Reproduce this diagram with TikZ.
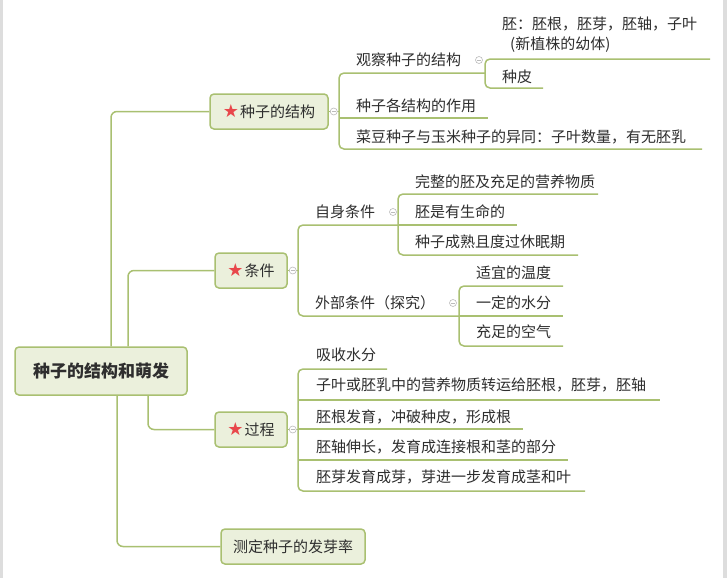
\documentclass[tikz,border=0pt]{standalone}
\usepackage{fontspec}
\setmainfont{Noto Sans CJK SC}
\newfontfamily\symfont{DejaVu Sans}
\usetikzlibrary{calc}
\definecolor{lc}{HTML}{A9C071}
\definecolor{nf}{HTML}{EBF0DC}
\definecolor{tc}{HTML}{2E2E2E}
\definecolor{sr}{HTML}{E8474B}
\definecolor{mk}{HTML}{BBBBBB}
\definecolor{edgegray}{HTML}{DDDDDD}
\newcommand{\redstar}{\raisebox{-0.5pt}{\symfont\color{sr}\fontsize{18}{18}\selectfont ★}\hspace{1pt}}
\begin{document}
\begin{tikzpicture}[x=1pt,y=-1pt,
 conn/.style={draw=lc, line width=1.5pt, rounded corners=5pt},
 topic/.style={draw=lc, fill=nf, line width=1.5pt, rounded corners=4pt, minimum height=35pt, inner sep=0pt, font=\fontsize{15}{18}\selectfont, text=tc},
 rootbox/.style={topic, minimum width=172pt, minimum height=48pt, font=\fontsize{17}{20}\selectfont\bfseries},
 leaf/.style={anchor=west, inner sep=0pt, font=\fontsize{15}{18}\selectfont, text=tc},
 marker/.style={circle, draw=mk, fill=white, line width=0.6pt, minimum size=7pt, inner sep=0pt,
   path picture={\draw[mk, line width=0.6pt] ([xshift=-2pt]path picture bounding box.center) -- ([xshift=2pt]path picture bounding box.center);}}
]
\useasboundingbox (0,0) rectangle (727,578);
\fill[white] (0,0) rectangle (727,578);
\fill[edgegray] (0,0) rectangle (2.5,578);
\fill[edgegray] (723,0) rectangle (727,578);

% main topics
\node[rootbox] (root) at (101,371) {种子的结构和萌发};
\node[topic, minimum width=118pt] (s1) at (269,111.5) {\redstar 种子的结构};
\node[topic, minimum width=72pt] (s2) at (251,270.5) {\redstar 条件};
\node[topic, minimum width=72pt] (s3) at (251,429.5) {\redstar 过程};
\node[topic, minimum width=144pt] (s4) at (293,546.5) {测定种子的发芽率};

\draw[conn, rounded corners=6pt] ([xshift=10pt]root.north) |- (s1.west);
\draw[conn, rounded corners=6pt] ([xshift=27pt]root.north) |- (s2.west);
\draw[conn, rounded corners=6pt] ([xshift=47pt]root.south) |- (s3.west);
\draw[conn, rounded corners=6pt] ([xshift=16pt]root.south) |- (s4.west);

% branch 1
\coordinate (b1t) at (339,73); \coordinate (b1b) at (339,149);
\node[leaf] (c11) at (356,60) {观察种子的结构};
\node[leaf] (c12) at (356,106) {种子各结构的作用};
\node[leaf] (c13) at (356,137) {菜豆种子与玉米种子的异同：子叶数量，有无胚乳};
\coordinate (c11e) at (485,73);
\coordinate (c12e) at (488,118);
\coordinate (c13e) at (702,149);
\draw[conn] (c11e) -- (b1t) -- (b1b) -- (c13e);
\draw[conn] (b1t |- c12e) -- (c12e);
\draw[conn] (s1.east) -- (b1t |- s1.east);

\coordinate (b2t) at (485,59); \coordinate (b2b) at (485,88);
\node[leaf] (c111) at (502,24) {胚：胚根，胚芽，胚轴，子叶};
\node[leaf] (c111b) at (510,45) {(新植株的幼体)};
\node[leaf] (c112) at (502,77) {种皮};
\coordinate (c111e) at (710,59);
\coordinate (c112e) at (543,88);
\draw[conn] (c111e) -- (b2t) -- (b2b) -- (c112e);

% branch 2
\coordinate (b3t) at (298,225); \coordinate (b3b) at (298,316);
\node[leaf] (c21) at (315,212) {自身条件};
\node[leaf] (c22) at (315,303) {外部条件（探究）};
\coordinate (c21e) at (398,225);
\coordinate (c22e) at (459,316);
\draw[conn] (c21e) -- (b3t) -- (b3b) -- (c22e);
\draw[conn] (s2.east) -- (b3t |- s2.east);

\coordinate (b4t) at (398,194); \coordinate (b4b) at (398,255);
\node[leaf] (c211) at (415,182) {完整的胚及充足的营养物质};
\node[leaf] (c212) at (415,212) {胚是有生命的};
\node[leaf] (c213) at (415,242) {种子成熟且度过休眠期};
\coordinate (c211e) at (598,194);
\coordinate (c212e) at (517,225);
\coordinate (c213e) at (578,255);
\draw[conn] (c211e) -- (b4t) -- (b4b) -- (c213e);
\draw[conn] (b4t |- c212e) -- (c212e);

\coordinate (b6t) at (459,286); \coordinate (b6b) at (459,346);
\node[leaf] (c221) at (476,273) {适宜的温度};
\node[leaf] (c222) at (476,303) {一定的水分};
\node[leaf] (c223) at (476,332) {充足的空气};
\coordinate (c221e) at (563,286);
\coordinate (c222e) at (563,316);
\coordinate (c223e) at (563,346);
\draw[conn] (c221e) -- (b6t) -- (b6b) -- (c223e);
\draw[conn] (b6t |- c222e) -- (c222e);

% branch 3
\coordinate (b5t) at (298,369); \coordinate (b5b) at (298,491);
\node[leaf] (c31) at (316,355) {吸收水分};
\node[leaf] (c32) at (316,385) {子叶或胚乳中的营养物质转运给胚根，胚芽，胚轴};
\node[leaf] (c33) at (316,417) {胚根发育，冲破种皮，形成根};
\node[leaf] (c34) at (316,447) {胚轴伸长，发育成连接根和茎的部分};
\node[leaf] (c35) at (316,477) {胚芽发育成芽，芽进一步发育成茎和叶};
\coordinate (c31e) at (387,369);
\coordinate (c32e) at (660,400);
\coordinate (c33e) at (523,429);
\coordinate (c34e) at (568,460);
\coordinate (c35e) at (585,491);
\draw[conn] (c31e) -- (b5t) -- (b5b) -- (c35e);
\draw[conn] (b5t |- c32e) -- (c32e);
\draw[conn] (b5t |- c33e) -- (c33e);
\draw[conn] (b5t |- c34e) -- (c34e);
\draw[conn] (s3.east) -- (b5t |- s3.east);

% collapse markers
\node[marker] (m1) at ([xshift=5pt]s1.east) {};
\node[marker] (m2) at ([xshift=5pt]s2.east) {};
\node[marker] (m3) at ([xshift=5pt]s3.east) {};
\node[marker] (m11) at (479,60) {};
\node[marker] (m21) at (393,212) {};
\node[marker] (m22) at (453,303) {};
\end{tikzpicture}
\end{document}
